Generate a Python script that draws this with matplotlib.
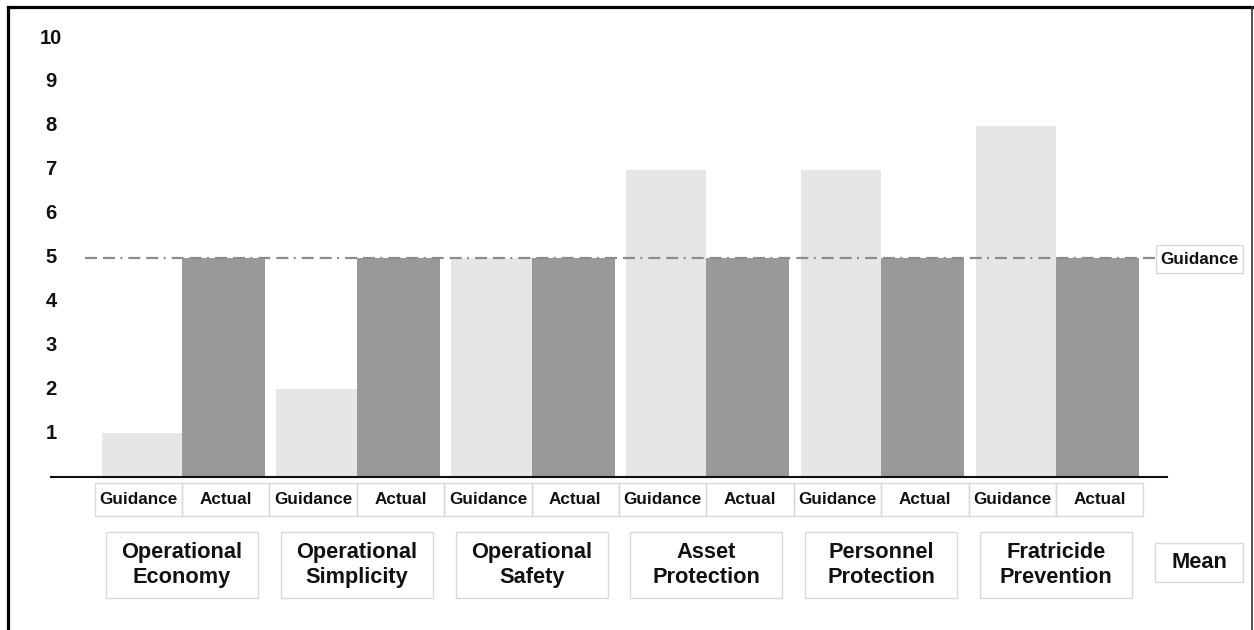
import matplotlib
matplotlib.use("Agg")
import matplotlib.pyplot as plt
from matplotlib.patches import Rectangle
from matplotlib.lines import Line2D
import matplotlib.transforms as mtransforms

plt.rcParams['font.family'] = ['Liberation Sans', 'DejaVu Sans']

# ---- data ----
categories = ["Operational\nEconomy", "Operational\nSimplicity", "Operational\nSafety",
              "Asset\nProtection", "Personnel\nProtection", "Fratricide\nPrevention"]
guidance = [1, 2, 5, 7, 7, 8]
actual = [5, 5, 5, 5, 5, 5]
sub_labels = ["Guidance", "Actual"]
yticks = [1, 2, 3, 4, 5, 6, 7, 8, 9, 10]
guidance_level = 5
mean_label = "Mean"
line_label = "Guidance"

W, H = 1254, 630
fig = plt.figure(figsize=(W / 100, H / 100), dpi=100)

def fx(px):
    return px / W

def fy(py):
    return 1 - py / H

# axes: x pixels 51..1167, y baseline 477, top at 10.5 units
ppu = 43.9
ax_left, ax_right, base = 51, 1167, 477
ymax = 10.5
ax = fig.add_axes([fx(ax_left), fy(base), (ax_right - ax_left) / W, ymax * ppu / H])

cat_px0, cat_step = 182, 174.8
ax.set_xlim((ax_left - cat_px0) / cat_step, (ax_right - cat_px0) / cat_step)
ax.set_ylim(0, ymax)

idx = list(range(len(categories)))
ax.bar(idx, guidance, width=-0.46, align='edge', color='#e6e6e6', zorder=2)
ax.bar(idx, actual, width=0.475, align='edge', color='#999999', zorder=2)

# guidance reference line (long dash, dash, dot)
lw = 1.6
ax.axhline(guidance_level, xmin=(85 - ax_left) / (ax_right - ax_left),
           xmax=(1155 - ax_left) / (ax_right - ax_left),
           color='#8c8c8c', lw=lw, dashes=(5.4, 2.7, 5.4, 2.4, 0.9, 2.7), zorder=3)

for s in ['top', 'right', 'left']:
    ax.spines[s].set_visible(False)
ax.spines['bottom'].set_linewidth(1.5)
ax.spines['bottom'].set_color('#111111')
ax.set_xticks([])
ax.set_yticks([])

# y tick labels
ytrans = mtransforms.blended_transform_factory(fig.transFigure, ax.transData)
for t in yticks:
    fig.text(fx(51), t, str(t), transform=ytrans, ha='center', va='center',
             fontsize=14.5, fontweight='bold', color='#111111')

# sub-label table cells
ctrans = mtransforms.blended_transform_factory(ax.transData, fig.transFigure)
cell_top, cell_bot = 483, 516
for i in idx:
    for k, lab in enumerate(sub_labels):
        x0 = i - 0.5 + 0.5 * k
        r = Rectangle((x0, fy(cell_bot)), 0.5, fy(cell_top) - fy(cell_bot),
                      transform=ctrans, fill=False, edgecolor='#d9d9d9', lw=1,
                      clip_on=False)
        fig.add_artist(r)
        fig.text(x0 + 0.25, fy((cell_top + cell_bot) / 2), lab, transform=ctrans,
                 ha='center', va='center', fontsize=12.3, fontweight='bold',
                 color='#111111')

# category boxes
box_top, box_bot, box_w = 532, 598, 152 / cat_step
for i, cat in enumerate(categories):
    r = Rectangle((i - box_w / 2, fy(box_bot)), box_w, fy(box_top) - fy(box_bot),
                  transform=ctrans, fill=False, edgecolor='#d9d9d9', lw=1, clip_on=False)
    fig.add_artist(r)
    fig.text(i, fy((box_top + box_bot) / 2), cat, transform=ctrans, ha='center',
             va='center', fontsize=15.7, fontweight='bold', color='#111111',
             linespacing=1.2)

def px_box(x0, y0, x1, y1, text, fs):
    r = Rectangle((fx(x0), fy(y1)), fx(x1) - fx(x0), fy(y0) - fy(y1),
                  transform=fig.transFigure, fill=False, edgecolor='#d9d9d9', lw=1)
    fig.add_artist(r)
    fig.text(fx((x0 + x1) / 2), fy((y0 + y1) / 2), text, ha='center', va='center',
             fontsize=fs, fontweight='bold', color='#111111')

px_box(1155, 543, 1243, 582, mean_label, 15.7)
px_box(1156, 245, 1243, 273, line_label, 12.3)

# figure border (left, top, right)
fig.add_artist(Line2D([fx(7.5), fx(7.5)], [0, fy(6.5)], transform=fig.transFigure,
                      color='black', lw=2.3))
fig.add_artist(Line2D([fx(7.5), fx(1252)], [fy(6.5), fy(6.5)], transform=fig.transFigure,
                      color='black', lw=2.3))
fig.add_artist(Line2D([fx(1252), fx(1252)], [fy(6.5), 0], transform=fig.transFigure,
                      color='#333333', lw=1.2))

fig.savefig("out.png", dpi=100, facecolor='white')
